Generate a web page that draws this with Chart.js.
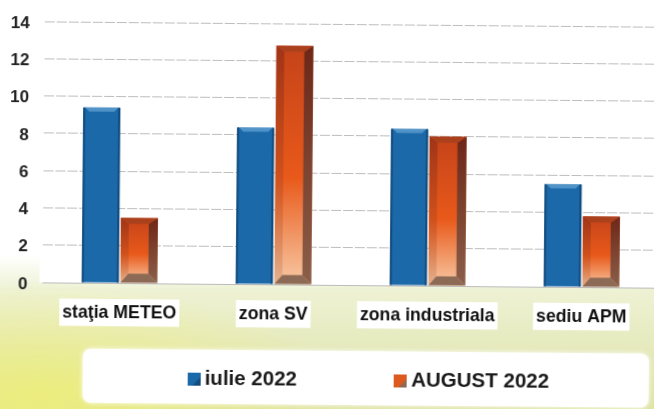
<!DOCTYPE html>
<html lang="ro">
<head>
  <meta charset="UTF-8">
  <title>iulie / august 2022</title>
  <script src="https://cdn.jsdelivr.net/npm/chart.js"></script>
  <style>
    html, body { margin: 0; height: 409px; width: 654px; overflow: hidden; }
    body {
      background:
        radial-gradient(ellipse 300px 110px at 40px 395px, rgba(240,240,110,0.75), rgba(240,240,110,0)),
        linear-gradient(to bottom, #fff 0, #fff 255px, #eef2d4 290px, #e5e9bb 350px, #dfe4a4 409px);
    }
    #wrap {
      position: absolute; left: 2px; top: 0; width: 664px; height: 409px;
      transform-origin: 0 0; transform: rotate(0.5deg);
    }
  </style>
</head>
<body>
  <div id="wrap"><canvas id="chart" width="664" height="409"></canvas></div>

  <script>
    const categories = ['staţia METEO', 'zona SV', 'zona industriala', 'sediu APM'];
    const iulie = [9.4, 8.4, 8.4, 5.5];
    const august = [3.5, 12.8, 8.0, 3.8];
    const yMax = 14;
    const yStep = 2;

    // white plot background and white legend panel
    const panels = {
      id: 'panels',
      beforeDraw(chart) {
        const { ctx, chartArea: a } = chart;
        ctx.save();
        ctx.fillStyle = '#fff';
        ctx.fillRect(40, a.top - 20, chart.width, a.bottom - a.top + 20);
        ctx.shadowColor = '#fff';
        ctx.shadowBlur = 5;
        ctx.beginPath();
        ctx.roundRect(84, 348, 566, 54, 8);
        ctx.fill();
        ctx.restore();
      }
    };

    // fake 3D bevels on top of the bars
    function poly(ctx, pts, fill) {
      ctx.fillStyle = fill;
      ctx.beginPath();
      pts.forEach((p, i) => i ? ctx.lineTo(p[0], p[1]) : ctx.moveTo(p[0], p[1]));
      ctx.closePath();
      ctx.fill();
    }
    const bevels = {
      id: 'bevels',
      afterDatasetsDraw(chart) {
        const ctx = chart.ctx;
        chart.getDatasetMeta(0).data.forEach(b => {
          const l = b.x - b.width / 2, r = b.x + b.width / 2;
          poly(ctx, [[l + 2, b.y], [r - 2, b.y], [r - 6, b.y + 4], [l + 6, b.y + 4]], '#4f93c8');
          poly(ctx, [[l, b.y], [l + 2, b.y], [l + 2, b.base], [l, b.base]], '#134c7e');
          poly(ctx, [[r - 2, b.y], [r, b.y], [r, b.base], [r - 2, b.base]], '#134c7e');
        });
        chart.getDatasetMeta(1).data.forEach(b => {
          const l = b.x - b.width / 2, r = b.x + b.width / 2;
          const side = ctx.createLinearGradient(0, b.y, 0, b.base);
          side.addColorStop(0, 'rgba(130,40,20,0.55)');
          side.addColorStop(0.7, 'rgba(170,70,30,0.3)');
          side.addColorStop(1, 'rgba(170,110,80,0.25)');
          poly(ctx, [[l, b.y], [l + 8, b.y + 6], [l + 8, b.base - 9], [l, b.base]], side);
          const dark = ctx.createLinearGradient(0, b.y, 0, b.base);
          dark.addColorStop(0, '#6d2717');
          dark.addColorStop(1, '#8a5f4a');
          poly(ctx, [[r, b.y], [r - 9, b.y + 6], [r - 9, b.base - 9], [r, b.base]], dark);
          poly(ctx, [[l, b.y], [r, b.y], [r - 9, b.y + 6], [l + 8, b.y + 6]], '#ab411c');
          poly(ctx, [[l, b.base], [r, b.base], [r - 9, b.base - 9], [l + 8, b.base - 9]], '#8d6a55');
        });
      }
    };

    // legend sits right of the canvas centre and at a fixed height
    const legendPos = {
      id: 'legendPos',
      afterLayout(chart) {
        const lg = chart.legend;
        lg.left += 43;
        lg.right += 43;
        lg.top = 264;
      }
    };

    function augustFill(context) {
      const chart = context.chart;
      if (!context.parsed || !chart.chartArea) return '#d9541e';
      const top = chart.scales.y.getPixelForValue(context.parsed.y);
      const g = chart.ctx.createLinearGradient(0, top, 0, chart.scales.y.getPixelForValue(0));
      g.addColorStop(0, '#c5431a');
      g.addColorStop(0.55, '#e8591a');
      g.addColorStop(1, '#f8c9a4');
      return g;
    }

    // small square legend marker with darker corner
    function marker(main, corner) {
      const c = document.createElement('canvas');
      c.width = 13;
      c.height = 13;
      const g = c.getContext('2d');
      g.fillStyle = main;
      g.fillRect(0, 0, 13, 13);
      poly(g, [[13, 13], [13, 5], [5, 13]], corner);
      return c;
    }
    const markers = [marker('#1b69a9', '#134c7e'), marker('#dd5a1e', '#8d6a55')];

    const boldFont = size => ({ family: '"Liberation Sans", Arial, sans-serif', size: size, weight: 'bold' });

    new Chart(document.getElementById('chart'), {
      type: 'bar',
      data: {
        labels: categories,
        datasets: [
          { label: 'iulie 2022', data: iulie, backgroundColor: '#1b69a9', borderWidth: 0 },
          { label: 'AUGUST 2022', data: august, backgroundColor: augustFill, borderWidth: 0 }
        ]
      },
      plugins: [panels, bevels, legendPos],
      options: {
        responsive: false,
        animation: false,
        categoryPercentage: 0.5,
        barPercentage: 0.96,
        layout: { padding: { top: 21, right: 5, left: 0, bottom: 0 } },
        plugins: {
          tooltip: { enabled: false },
          legend: {
            position: 'bottom',
            maxHeight: 62,
            labels: {
              usePointStyle: true, pointStyleWidth: 1, padding: 103,
              color: '#1a1a1a', font: boldFont(20.5),
              generateLabels(chart) {
                return Chart.defaults.plugins.legend.labels.generateLabels(chart)
                  .map((item, i) => Object.assign(item, { pointStyle: markers[i] }));
              }
            }
          }
        },
        scales: {
          x: {
            afterFit(scale) { scale.height = 65; },
            grid: { display: false, drawTicks: false },
            border: { color: '#bbb' },
            ticks: {
              color: '#111', font: boldFont(17.7), padding: 19, maxRotation: 0,
              showLabelBackdrop: true, backdropColor: '#fff', backdropPadding: 3
            }
          },
          y: {
            min: 0, max: yMax,
            afterFit(scale) { scale.width = 43; scale.paddingTop = 0; },
            grid: { color: '#bdbdbd', drawTicks: false },
            border: { display: false, dash: [10, 2] },
            ticks: { stepSize: yStep, color: '#222', font: boldFont(17), padding: 15, labelOffset: 2 }
          }
        }
      }
    });
  </script>
</body>
</html>
